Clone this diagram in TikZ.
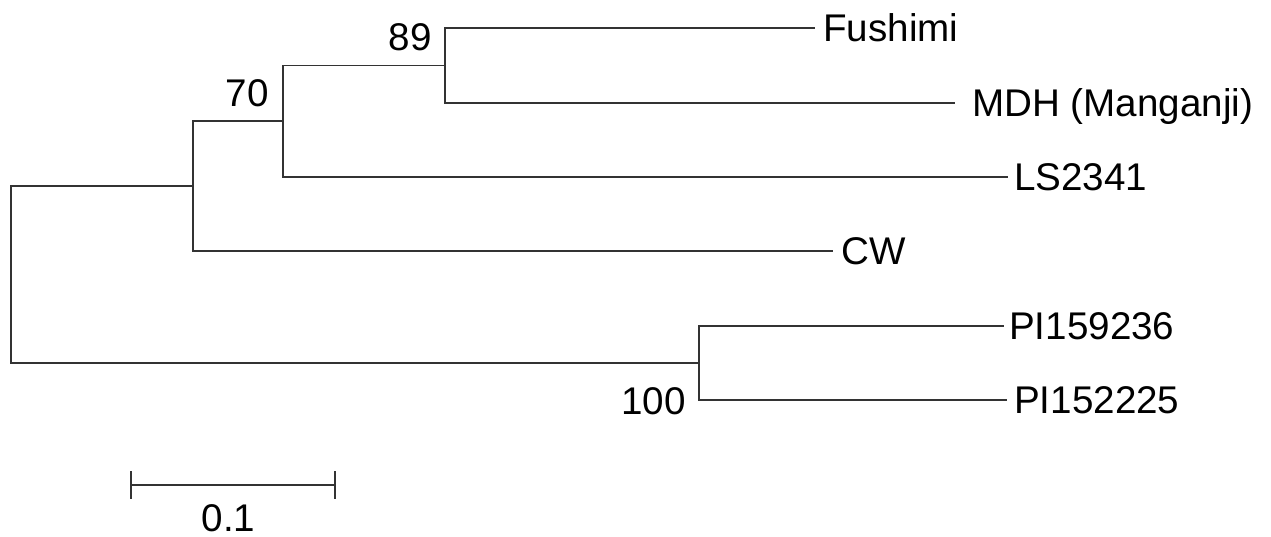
\documentclass[tikz,border=0pt]{standalone}
\usepackage{fontspec}
\setmainfont{Liberation Sans}
\begin{document}
\begin{tikzpicture}[x=1pt,y=-1pt,
  branch/.style={draw=black!80,line width=1.6pt,line cap=rect},
  taxon/.style={anchor=base west,inner sep=0pt,font=\fontsize{38.6}{46}\selectfont},
  support/.style={anchor=base east,inner sep=0pt,font=\fontsize{38.6}{46}\selectfont}]
\useasboundingbox (0,0) rectangle (1271,537);

% internal nodes (placed at the middle of their vertical bars)
\coordinate (R) at (11,274.5);
\coordinate (A) at (193,186);
\coordinate (B) at (283,121);
\coordinate (C) at (445,65.5);
\coordinate (D) at (699,363);

% branch tips
\coordinate (fu)  at (814,28);
\coordinate (mdh) at (954,103);
\coordinate (ls)  at (1007,177);
\coordinate (cw)  at (832,251);
\coordinate (pa)  at (1003,326);
\coordinate (pb)  at (1006,400);

% taxon labels
\node[taxon] (tfu)  at (823,41.5)  {Fushimi};
\node[taxon] (tmdh) at (972,116.5) {MDH (Manganji)};
\node[taxon] (tls)  at (1014,190.5) {LS2341};
\node[taxon] (tcw)  at (841,264.5) {CW};
\node[taxon] (tpa)  at (1009,339.5) {PI159236};
\node[taxon] (tpb)  at (1014,413.5) {PI152225};

% bootstrap values
\node[support] (b89)  at (432,51)  {89};
\node[support] (b70)  at (269,107) {70};
\node[support] (b100) at (686,414) {100};

% tree
\draw[branch] (A) -| (R) |- (D);
\draw[branch] (B) -| (A) |- (cw);
\draw[branch] (C) -| (B) |- (ls);
\draw[branch] (fu) -| (C) |- (mdh);
\draw[branch] (pa) -| (D) |- (pb);

% scale bar
\coordinate (s0) at (131,485);
\coordinate (s1) at (335,485);
\draw[branch] (s0) -- (s1);
\draw[branch] ([yshift=-13pt]s0) -- ([yshift=13pt]s0);
\draw[branch] ([yshift=-13pt]s1) -- ([yshift=13pt]s1);
\node[taxon,anchor=base] (lbl) at (228.5,531) {0.1};
\end{tikzpicture}
\end{document}
